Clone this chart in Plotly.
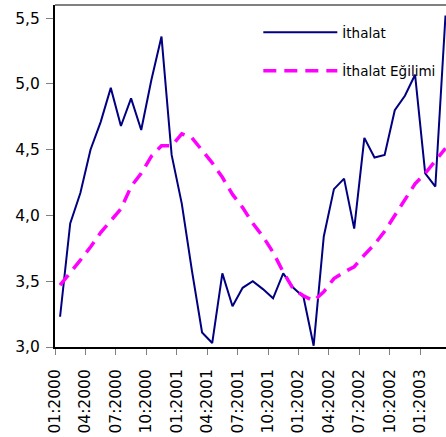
import plotly.graph_objects as go

# aylar: 01:2000 .. 03:2003
aylar = [f"{m:02d}:{y}" for y in (2000, 2001, 2002, 2003) for m in range(1, 13)][:39]

ithalat = [3.23, 3.94, 4.17, 4.50, 4.71, 4.97, 4.68, 4.89, 4.65, 5.03,
           5.36, 4.46, 4.09, 3.58, 3.11, 3.03, 3.56, 3.31, 3.45, 3.50,
           3.44, 3.37, 3.56, 3.45, 3.38, 3.01, 3.84, 4.20, 4.28, 3.90,
           4.59, 4.44, 4.46, 4.80, 4.91, 5.07, 4.32, 4.22, 5.52]

egilim = [3.47, 3.56, 3.66, 3.76, 3.87, 3.96, 4.05, 4.22, 4.32, 4.45,
          4.53, 4.53, 4.62, 4.59, 4.50, 4.40, 4.29, 4.16, 4.06, 3.94,
          3.84, 3.72, 3.57, 3.44, 3.39, 3.35, 3.42, 3.52, 3.57, 3.61,
          3.70, 3.78, 3.88, 4.00, 4.13, 4.24, 4.32, 4.41, 4.51]

x = list(range(len(aylar)))
tick_pos = [i - 0.5 for i in range(0, 37, 3)]
tick_txt = aylar[0:37:3]

fig = go.Figure()
fig.add_trace(go.Scatter(
    x=x, y=ithalat, name="İthalat", mode="lines",
    line=dict(color="#000080", width=2), legendgroup="a"
))
fig.add_trace(go.Scatter(
    x=x, y=egilim, name="İthalat Eğilimi", mode="lines",
    line=dict(color="#ff00ff", width=3.5, dash="13px,8px"), legendgroup="b"
))

fig.update_xaxes(
    range=[-0.5, 38.05], tickmode="array", tickvals=tick_pos, ticktext=tick_txt,
    tickangle=-90, ticks="outside", ticklen=6, tickwidth=1, tickcolor="#808080",
    ticklabelstandoff=8,
    showline=True, linecolor="black", linewidth=2, showgrid=False, zeroline=False,
    tickfont=dict(family="DejaVu Sans", size=15.5, color="black")
)
fig.update_yaxes(
    range=[3.0, 5.6], tickvals=[3.0, 3.5, 4.0, 4.5, 5.0, 5.5], tickformat=".1f",
    ticks="outside", ticklen=7, tickwidth=1, tickcolor="#808080",
    ticklabelstandoff=3,
    showline=True, linecolor="black", linewidth=2, showgrid=False, zeroline=False,
    tickfont=dict(family="DejaVu Sans", size=15.5, color="black")
)

# üst kenar çizgisi
fig.add_shape(type="line", xref="paper", yref="paper", x0=0, x1=1, y0=1, y1=1,
              line=dict(color="#808080", width=2))

fig.update_layout(
    width=446, height=437,
    margin=dict(l=55, r=0, t=5, b=90),
    plot_bgcolor="white", paper_bgcolor="white",
    separators=", ",
    legend=dict(x=0.52, y=0.965, xanchor="left", yanchor="top",
                bgcolor="rgba(0,0,0,0)", itemwidth=74, tracegroupgap=18,
                font=dict(family="DejaVu Sans", size=13.5, color="black")),
)

fig.write_html("out.html", config={"displayModeBar": False},
               post_script="document.body.style.margin='0';")
